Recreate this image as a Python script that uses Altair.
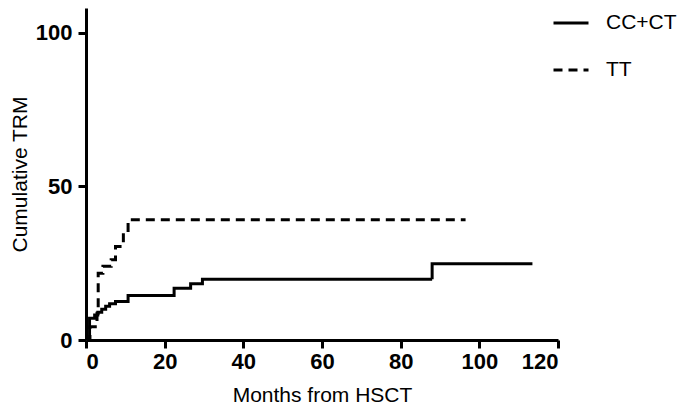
import altair as alt
import pandas as pd

# CC+CT group (solid) step curve
cc_t = [0, 0.9, 2.2, 3, 4, 5, 6, 7.5, 10.7, 22.4, 26.6, 29.6, 88, 113.5]
cc_y = [0, 7.1, 8.1, 9, 10, 11, 11.8, 12.5, 14.5, 16.8, 18.3, 19.8, 24.8, 24.8]
# TT group (dashed) step curve
tt_t = [0, 1, 2.8, 3.1, 4.3, 6.4, 7.5, 9.5, 10.7, 96.5]
tt_y = [0, 4.3, 8.7, 21.7, 24, 26.1, 30.4, 34.8, 39.1, 39.1]

groups = ["CC+CT", "TT"]
x_ticks = [0, 20, 40, 60, 80, 100, 120]
y_ticks = [0, 50, 100]

rows = []
for i, (t, y) in enumerate(zip(cc_t, cc_y)):
    rows.append({"group": groups[0], "t": t, "y": y, "o": i})
for i, (t, y) in enumerate(zip(tt_t, tt_y)):
    rows.append({"group": groups[1], "t": t, "y": y, "o": i})
df = pd.DataFrame(rows)

FONT = "Liberation Sans"

chart = alt.Chart(df).mark_line(
    interpolate="step-after", strokeWidth=3, color="black", clip=True
).encode(
    x=alt.X("t:Q", scale=alt.Scale(domain=[0, 120], nice=False, zero=True),
            axis=alt.Axis(values=x_ticks, title="Months from HSCT", grid=False,
                          labelFontWeight="bold", labelFontSize=22, labelFont=FONT,
                          titleFont=FONT, titleFontSize=21, titleFontWeight="normal",
                          titlePadding=12, tickSize=8, tickWidth=3, domainWidth=3,
                          domainColor="black", tickColor="black", labelColor="black",
                          titleColor="black", labelPadding=3)),
    y=alt.Y("y:Q", scale=alt.Scale(domain=[0, 108], nice=False),
            axis=alt.Axis(values=y_ticks, title="Cumulative TRM", grid=False,
                          labelFontWeight="bold", labelFontSize=22, labelFont=FONT,
                          titleFont=FONT, titleFontSize=21, titleFontWeight="normal",
                          titlePadding=5, tickSize=8, tickWidth=3, domainWidth=3,
                          domainColor="black", tickColor="black", labelColor="black",
                          titleColor="black", labelPadding=6)),
    strokeDash=alt.StrokeDash("group:N", sort=groups,
                              scale=alt.Scale(domain=groups, range=[[1, 0], [9, 6]]),
                              legend=alt.Legend(title=None, orient="none", legendX=466, legendY=-4,
                                                symbolType="stroke", symbolSize=1225,
                                                symbolStrokeWidth=3, symbolStrokeColor="black",
                                                labelFont=FONT, labelFontSize=21,
                                                labelColor="black", labelOffset=16,
                                                rowPadding=18, padding=0)),
    order="o:Q",
).properties(
    width=472, height=332,
    autosize=alt.AutoSizeParams(type="none"),
    padding={"left": 78, "top": 0, "right": 122, "bottom": 67},
).configure_view(stroke=None).configure_legend(symbolSize=1225, symbolStrokeWidth=3)

chart.save("out.html", embed_options={"renderer": "svg", "actions": False})
